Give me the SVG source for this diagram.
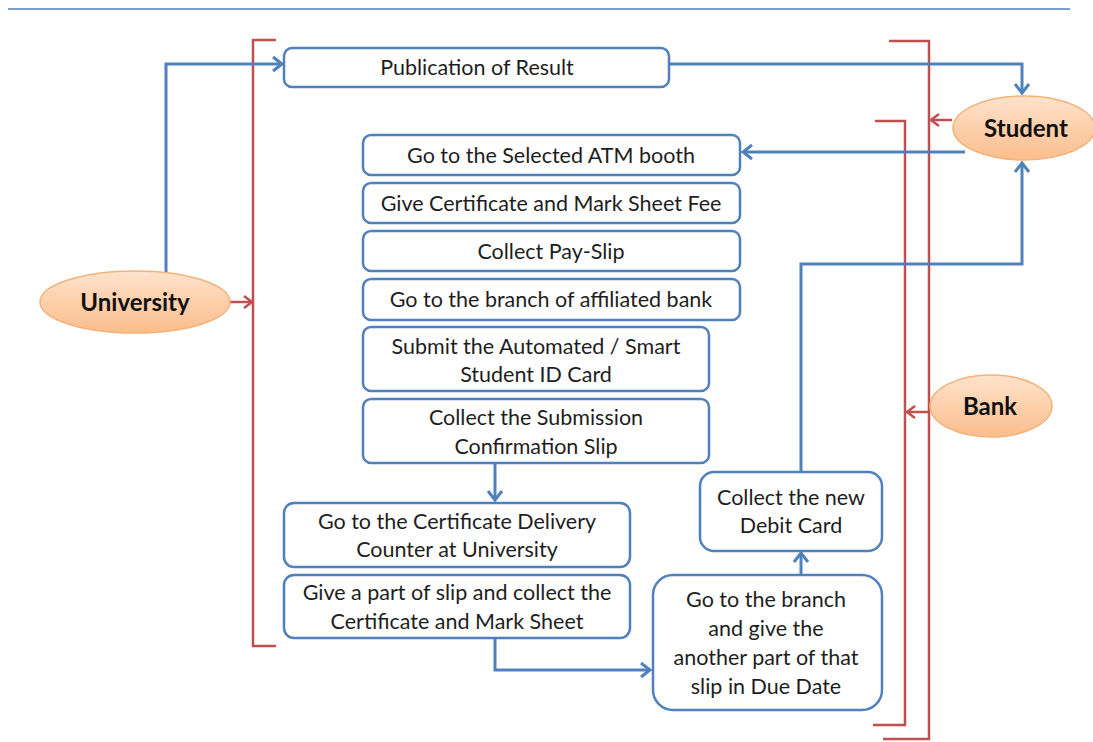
<svg xmlns="http://www.w3.org/2000/svg" width="1093" height="742" viewBox="0 0 1093 742">
  <style>
    .box { fill: #ffffff; stroke: #4f81bd; stroke-width: 2.5; }
    .oval { fill: url(#peach); stroke: #f2b27a; stroke-width: 1.5; }
    .t { font-family: Lato, "Open Sans", "Liberation Sans", sans-serif; font-size: 21.5px; fill: #1e1e1e; text-anchor: middle; }
    .tb { font-family: Lato, "Open Sans", "Liberation Sans", sans-serif; font-size: 24px; font-weight: bold; fill: #111; text-anchor: middle; }
    .blue { fill: none; stroke: #4f81bd; stroke-width: 3; marker-end: url(#ab); }
    .red { fill: none; stroke: #c0504d; stroke-width: 2.5; }
    .redarrow { fill: none; stroke: #c0504d; stroke-width: 2.5; marker-end: url(#ar); }
  </style>
  <defs>
    <linearGradient id="peach" x1="0" y1="0" x2="0" y2="1">
      <stop offset="0" stop-color="#fee3cc"/>
      <stop offset="1" stop-color="#fbbd8c"/>
    </linearGradient>
    <marker id="ab" markerUnits="userSpaceOnUse" markerWidth="20" markerHeight="20" viewBox="-12 -10 14 20" refX="0" refY="0" orient="auto">
      <path d="M-9,-7 L0,0 L-9,7" fill="none" stroke="#4f81bd" stroke-width="3"/>
    </marker>
    <marker id="ar" markerUnits="userSpaceOnUse" markerWidth="20" markerHeight="20" viewBox="-12 -10 14 20" refX="0" refY="0" orient="auto">
      <path d="M-8,-6 L0,0 L-8,6" fill="none" stroke="#c0504d" stroke-width="2.5"/>
    </marker>
  </defs>

  <rect width="1093" height="742" fill="#ffffff"/>
  <line x1="8" y1="9" x2="1070" y2="9" stroke="#4f81bd" stroke-width="1.5"/>

  <!-- scope brackets -->
  <g id="brackets">
    <path class="red" d="M276,40 H253 V646 H276"/>
    <path class="red" d="M889,41 H929 V739 H883"/>
    <path class="red" d="M875,121 H905 V725 H873"/>
  </g>

  <g id="connectors">
    <path class="blue" d="M166,272 V64 H282"/>
    <path class="blue" d="M669,64 H1022 V93"/>
    <path class="blue" d="M965,152 H743"/>
    <path class="blue" d="M495,463 V500"/>
    <path class="blue" d="M495,638 V670 H650"/>
    <path class="blue" d="M801,575 V553"/>
    <path class="blue" d="M801,472 V264 H1022 V163"/>
    <path class="redarrow" d="M230,302 H252"/>
    <path class="redarrow" d="M952,120 H931"/>
    <path class="redarrow" d="M930,412 H907"/>
  </g>

  <g id="university">
    <ellipse class="oval" cx="135" cy="302" rx="95" ry="31"/>
    <text class="tb" x="135" y="311">University</text>
  </g>
  <g id="student">
    <ellipse class="oval" cx="1024" cy="128" rx="71" ry="32"/>
    <text class="tb" x="1026" y="137">Student</text>
  </g>
  <g id="bank">
    <ellipse class="oval" cx="991" cy="406" rx="61" ry="31"/>
    <text class="tb" x="990" y="415">Bank</text>
  </g>

  <g id="publication">
    <rect class="box" x="284" y="48" width="385" height="39" rx="8"/>
    <text class="t" x="477" y="75">Publication of Result</text>
  </g>
  <g id="atm">
    <rect class="box" x="363" y="135" width="377" height="40" rx="8"/>
    <text class="t" x="551" y="163">Go to the Selected ATM booth</text>
  </g>
  <g id="fee">
    <rect class="box" x="363" y="183" width="377" height="40" rx="8"/>
    <text class="t" x="551" y="211">Give Certificate and Mark Sheet Fee</text>
  </g>
  <g id="payslip">
    <rect class="box" x="363" y="231" width="377" height="40" rx="8"/>
    <text class="t" x="551" y="259">Collect Pay-Slip</text>
  </g>
  <g id="branch">
    <rect class="box" x="363" y="279" width="377" height="41" rx="8"/>
    <text class="t" x="551" y="307">Go to the branch of affiliated bank</text>
  </g>
  <g id="submit">
    <rect class="box" x="363" y="327" width="346" height="64" rx="8"/>
    <text class="t" x="536" y="354">Submit the Automated / Smart</text>
    <text class="t" x="536" y="382">Student ID Card</text>
  </g>
  <g id="confirmation">
    <rect class="box" x="363" y="399" width="346" height="64" rx="8"/>
    <text class="t" x="536" y="425">Collect the Submission</text>
    <text class="t" x="536" y="454">Confirmation Slip</text>
  </g>
  <g id="counter">
    <rect class="box" x="284" y="503" width="346" height="64" rx="10"/>
    <text class="t" x="457" y="529">Go to the Certificate Delivery</text>
    <text class="t" x="457" y="557">Counter at University</text>
  </g>
  <g id="collect-certificate">
    <rect class="box" x="284" y="575" width="346" height="63" rx="10"/>
    <text class="t" x="457" y="600">Give a part of slip and collect the</text>
    <text class="t" x="457" y="629">Certificate and Mark Sheet</text>
  </g>
  <g id="debit-card">
    <rect class="box" x="700" y="472" width="182" height="79" rx="14"/>
    <text class="t" x="791" y="505">Collect the new</text>
    <text class="t" x="791" y="533">Debit Card</text>
  </g>
  <g id="due-date">
    <rect class="box" x="653" y="575" width="229" height="135" rx="20"/>
    <text class="t" x="766" y="607">Go to the branch</text>
    <text class="t" x="766" y="636">and give the</text>
    <text class="t" x="766" y="665">another part of that</text>
    <text class="t" x="766" y="694">slip in Due Date</text>
  </g>
</svg>
